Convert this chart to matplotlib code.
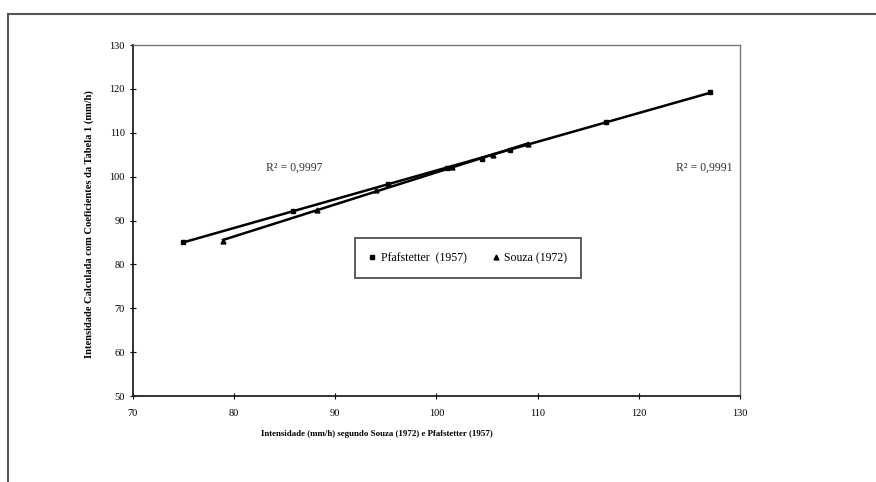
import matplotlib
matplotlib.use("Agg")
import matplotlib.pyplot as plt
from matplotlib.lines import Line2D
import numpy as np

plt.rcParams['font.family'] = ['Liberation Serif', 'DejaVu Serif']

# Data
pf_x = [74.9, 85.8, 95.2, 101.0, 104.5, 107.3, 116.8, 127.0]
pf_y = [85.2, 92.1, 98.3, 101.9, 104.1, 106.0, 112.4, 119.4]
sz_x = [78.9, 88.2, 94.0, 101.5, 105.6, 109.0]
sz_y = [85.4, 92.4, 96.9, 102.1, 104.9, 107.5]
pf_label = "Pfafstetter  (1957)"
sz_label = "Souza (1972)"
r2_left = "R² = 0,9997"
r2_right = "R² = 0,9991"
xticks = [70, 80, 90, 100, 110, 120, 130]
yticks = [50, 60, 70, 80, 90, 100, 110, 120, 130]
xlabel = "Intensidade (mm/h) segundo Souza (1972) e Pfafstetter (1957)"
ylabel = "Intensidade Calculada com Coeficientes da Tabela 1 (mm/h)"

fig = plt.figure(figsize=(8.76, 4.82), dpi=100)
ax = fig.add_axes([0.1518, 0.1784, 0.6929, 0.7282])

# outer frame (top and left edges visible)
fig.add_artist(Line2D([8/876, 1.0], [1-14/482, 1-14/482], transform=fig.transFigure,
                      color='#555555', lw=1.5))
fig.add_artist(Line2D([8/876, 8/876], [0.0, 1-14/482], transform=fig.transFigure,
                      color='#555555', lw=1.5))

# linear trendlines
for xs, ys in [(pf_x, pf_y), (sz_x, sz_y)]:
    xs = np.asarray(xs); ys = np.asarray(ys)
    m, b = np.polyfit(xs, ys, 1)
    xx = np.array([xs.min(), xs.max()])
    ax.plot(xx, m*xx + b, color='black', lw=1.8, zorder=2)

ax.plot(pf_x, pf_y, linestyle='none', marker='s', ms=3.3, color='black',
        label=pf_label, zorder=3)
ax.plot(sz_x, sz_y, linestyle='none', marker='^', ms=3.5, color='black',
        label=sz_label, zorder=3)

ax.set_xlim(70, 130)
ax.set_ylim(50, 130)
ax.set_xticks(xticks)
ax.set_yticks(yticks)
ax.tick_params(direction='inout', length=4, width=0.8, labelsize=7.5)
ax.tick_params(axis='x', pad=7)
ax.tick_params(axis='y', pad=4)

for s in ['left', 'bottom']:
    ax.spines[s].set_linewidth(1.3)
    ax.spines[s].set_color('#222222')
for s in ['top', 'right']:
    ax.spines[s].set_linewidth(1.0)
    ax.spines[s].set_color('#777777')

ax.set_xlabel(xlabel, fontsize=6.4, fontweight='bold')
ax.xaxis.set_label_coords(0.402, -0.098)
ax.set_ylabel(ylabel, fontsize=7.6, fontweight='bold')
ax.yaxis.set_label_coords(-0.064, 0.49)

ax.text(0.265, 0.650, r2_left, transform=ax.transAxes, fontsize=8.5,
        ha='center', va='center', color='#333333')
ax.text(0.988, 0.650, r2_right, transform=ax.transAxes, fontsize=8.5,
        ha='right', va='center', color='#333333')

leg = ax.legend(loc='center', bbox_to_anchor=(0.552, 0.393), ncol=2, fontsize=8.5,
                frameon=True, fancybox=False, handlelength=0.6, handletextpad=0.4,
                columnspacing=2.2, borderpad=1.15, markerscale=1.0)
leg.get_frame().set_edgecolor('#333333')
leg.get_frame().set_linewidth(1.4)

fig.savefig("out.png", dpi=100)
